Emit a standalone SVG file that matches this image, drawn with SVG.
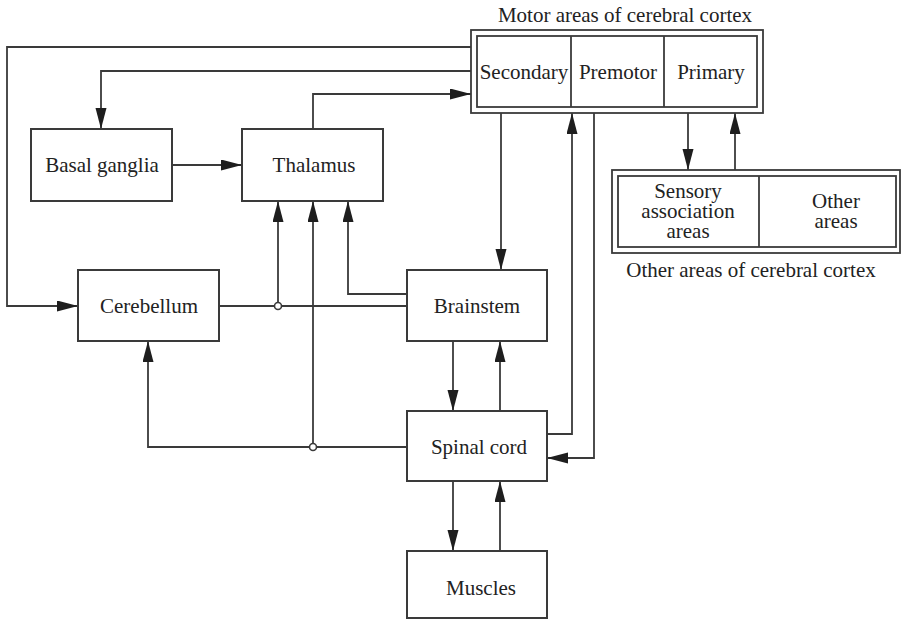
<svg xmlns="http://www.w3.org/2000/svg" width="902" height="621" viewBox="0 0 902 621">
  <defs>
    <marker id="arrow" markerUnits="userSpaceOnUse" markerWidth="22" markerHeight="12" refX="21" refY="5.5" orient="auto">
      <path d="M0,0 L21,5.5 L0,11 Z" fill="#1e1e1e"/>
    </marker>
    <style>
      .box { fill: #ffffff; stroke: #3a3a3a; stroke-width: 2; }
      .frame { fill: none; stroke: #3a3a3a; stroke-width: 1.8; }
      .wire { fill: none; stroke: #3a3a3a; stroke-width: 1.8; }
      .arr { marker-end: url(#arrow); }
      .dot { fill: #ffffff; stroke: #3a3a3a; stroke-width: 1.6; }
      text { font-family: "Liberation Serif", "Times New Roman", serif; font-size: 21px; fill: #222222; text-anchor: middle; }
    </style>
  </defs>

  <rect width="902" height="621" fill="#ffffff"/>

  <!-- connectors -->
  <g id="connectors">
    <polyline class="wire arr" points="471,47 7,47 7,306 78,306"/>
    <polyline class="wire arr" points="471,71 101,71 101,129"/>
    <polyline class="wire arr" points="313,129 313,94 471,94"/>
    <line class="wire arr" x1="172" y1="165" x2="242" y2="165"/>
    <line class="wire" x1="219" y1="306" x2="407" y2="306"/>
    <line class="wire arr" x1="278" y1="306" x2="278" y2="201"/>
    <polyline class="wire arr" points="407,294 348,294 348,201"/>
    <polyline class="wire arr" points="407,447 148,447 148,341"/>
    <line class="wire arr" x1="313" y1="447" x2="313" y2="201"/>
    <line class="wire arr" x1="501" y1="113" x2="501" y2="270"/>
    <line class="wire arr" x1="453" y1="341" x2="453" y2="411"/>
    <line class="wire arr" x1="500" y1="411" x2="500" y2="341"/>
    <polyline class="wire arr" points="547,434 572,434 572,113"/>
    <polyline class="wire arr" points="594,113 594,458 547,458"/>
    <line class="wire arr" x1="453" y1="481" x2="453" y2="551"/>
    <line class="wire arr" x1="500" y1="551" x2="500" y2="481"/>
    <line class="wire arr" x1="688" y1="113" x2="688" y2="170"/>
    <line class="wire arr" x1="735" y1="170" x2="735" y2="113"/>
    <circle class="dot" cx="278" cy="306" r="3.5"/>
    <circle class="dot" cx="313" cy="447" r="3.5"/>
  </g>

  <!-- motor areas of the cerebral cortex -->
  <g id="motor-cortex">
    <text x="625" y="22">Motor areas of cerebral cortex</text>
    <rect class="frame" x="471" y="30" width="292" height="83"/>
    <rect class="frame" x="477" y="36" width="280" height="71"/>
    <line class="frame" x1="571" y1="36" x2="571" y2="107"/>
    <line class="frame" x1="664" y1="36" x2="664" y2="107"/>
    <text x="524" y="79">Secondary</text>
    <text x="618" y="79">Premotor</text>
    <text x="711" y="79">Primary</text>
  </g>

  <!-- other areas of the cerebral cortex -->
  <g id="other-cortex">
    <rect class="frame" x="612" y="170" width="288" height="83"/>
    <rect class="frame" x="618" y="176" width="278" height="71"/>
    <line class="frame" x1="759" y1="176" x2="759" y2="247"/>
    <text x="688" y="198">Sensory</text>
    <text x="688" y="218">association</text>
    <text x="688" y="238">areas</text>
    <text x="836" y="208">Other</text>
    <text x="836" y="228">areas</text>
    <text x="751" y="277">Other areas of cerebral cortex</text>
  </g>

  <g id="basal-ganglia">
    <rect class="box" x="31" y="129" width="141" height="72"/>
    <text x="102" y="172">Basal ganglia</text>
  </g>

  <g id="thalamus">
    <rect class="box" x="242" y="129" width="141" height="72"/>
    <text x="314" y="172">Thalamus</text>
  </g>

  <g id="cerebellum">
    <rect class="box" x="78" y="270" width="141" height="71"/>
    <text x="149" y="313">Cerebellum</text>
  </g>

  <g id="brainstem">
    <rect class="box" x="407" y="270" width="140" height="71"/>
    <text x="477" y="313">Brainstem</text>
  </g>

  <g id="spinal-cord">
    <rect class="box" x="407" y="411" width="140" height="70"/>
    <text x="479" y="454">Spinal cord</text>
  </g>

  <g id="muscles">
    <rect class="box" x="407" y="551" width="140" height="67"/>
    <text x="481" y="595">Muscles</text>
  </g>
</svg>
